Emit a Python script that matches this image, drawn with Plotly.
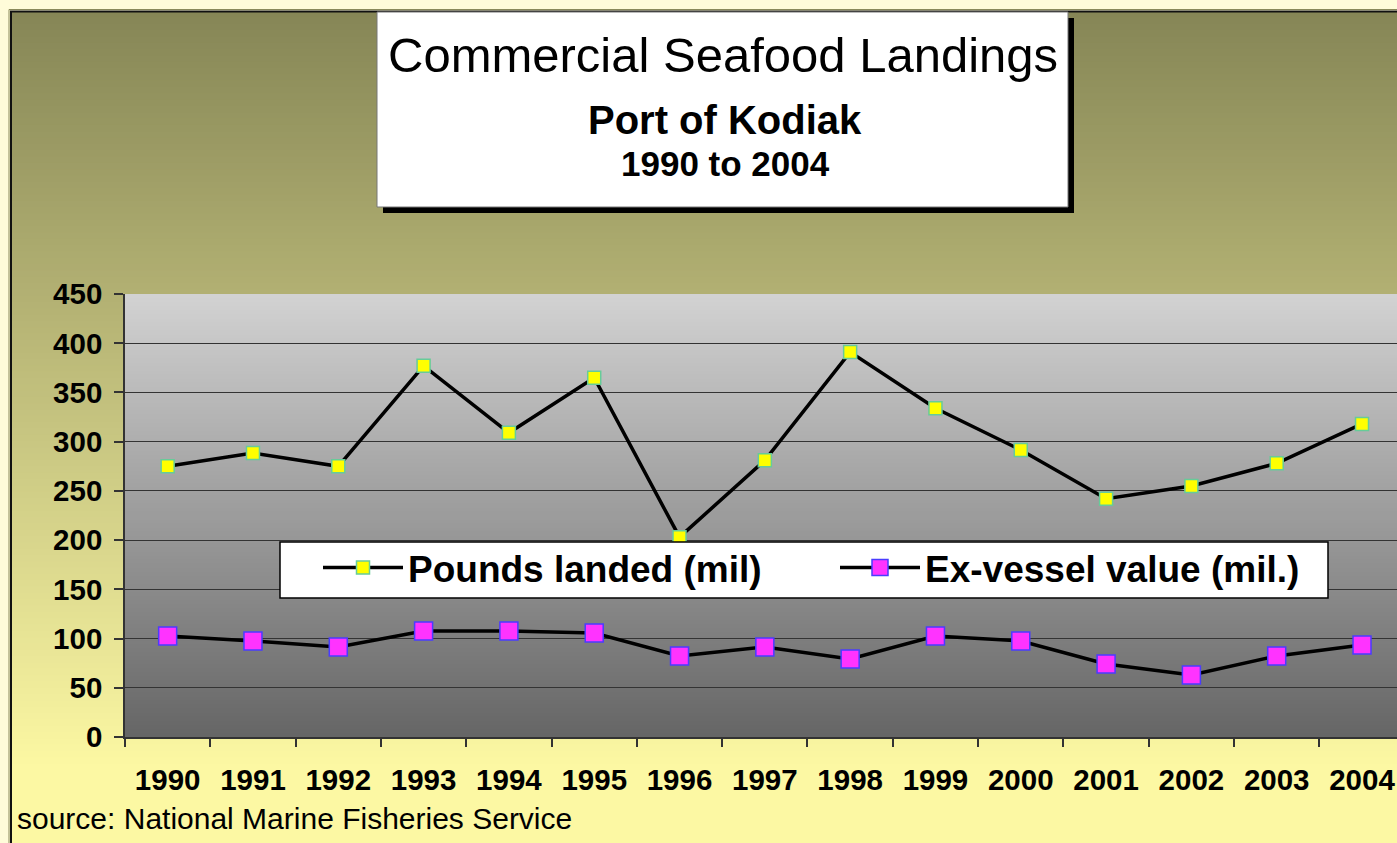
import plotly.graph_objects as go

# ---------------- data ----------------
years = ['1990', '1991', '1992', '1993', '1994', '1995', '1996', '1997',
         '1998', '1999', '2000', '2001', '2002', '2003', '2004']
pounds_landed = [275, 288.5, 275, 377, 309, 365, 203, 281, 391, 334, 291.5, 242, 255, 278, 318]
exvessel_value = [102.6, 97.5, 91.4, 107.7, 107.7, 105.6, 82.3, 91.4, 79.2, 102.6, 97.5, 74.2, 63, 82.3, 93.5]
y_ticks = [0, 50, 100, 150, 200, 250, 300, 350, 400, 450]

title_main = "Commercial Seafood Landings"
title_sub = "Port of Kodiak"
title_years = "1990 to 2004"
source_text = "source: National Marine Fisheries Service"

# ---------------- layout geometry (pixels) ----------------
W, H = 1397, 843
L, R, T, B = 125, 1397, 294, 737


def px(x):
    return (x - L) / (R - L)


def py(y):
    return (B - y) / (B - T)


def mix(c1, c2, t):
    return '#%02x%02x%02x' % tuple(int(round(a + (b - a) * t)) for a, b in zip(c1, c2))


shapes = []
# outer chart-area gradient (olive -> pale yellow)
c_top, c_bot = (0x86, 0x86, 0x56), (0xfc, 0xf8, 0xa3)
N = 120
g0, g1 = 11, 770
for i in range(N):
    ya = g0 + (g1 - g0) * i / N
    yb = g0 + (g1 - g0) * (i + 1) / N + 1
    shapes.append(dict(type='rect', xref='paper', yref='paper', layer='below',
                       x0=px(10), x1=px(1410), y0=py(ya), y1=py(yb),
                       fillcolor=mix(c_top, c_bot, (i + 0.5) / N), line=dict(width=0)))
shapes.append(dict(type='rect', xref='paper', yref='paper', layer='below',
                   x0=px(10), x1=px(1410), y0=py(g1), y1=py(860),
                   fillcolor=mix(c_top, c_bot, 1), line=dict(width=0)))
# plot-area gradient (light grey -> dark grey)
p_top, p_bot = (0xd2, 0xd2, 0xd2), (0x66, 0x66, 0x66)
N2 = 110
for i in range(N2):
    ya = T + (B - T) * i / N2
    yb = T + (B - T) * (i + 1) / N2 + 0.8
    if yb > B:
        yb = B
    shapes.append(dict(type='rect', xref='paper', yref='paper', layer='below',
                       x0=0, x1=1.02, y0=py(ya), y1=py(yb),
                       fillcolor=mix(p_top, p_bot, (i + 0.5) / N2), line=dict(width=0)))
# chart-area border
shapes.append(dict(type='rect', xref='paper', yref='paper', layer='below',
                   x0=px(9), x1=px(1420), y0=py(9.5), y1=py(870),
                   fillcolor='rgba(0,0,0,0)', line=dict(color='#8a8a5a', width=1)))
shapes.append(dict(type='rect', xref='paper', yref='paper', layer='below',
                   x0=px(11), x1=px(1420), y0=py(11.5), y1=py(870),
                   fillcolor='rgba(0,0,0,0)', line=dict(color='#111111', width=2)))
# title box shadow + box
shapes.append(dict(type='rect', xref='paper', yref='paper',
                   x0=px(383), x1=px(1074), y0=py(18), y1=py(213),
                   fillcolor='black', line=dict(width=0)))
shapes.append(dict(type='rect', xref='paper', yref='paper',
                   x0=px(377), x1=px(1068), y0=py(12), y1=py(207),
                   fillcolor='white', line=dict(color='#777777', width=1)))
# legend box (legend itself drawn transparent on top of it)
shapes.append(dict(type='rect', xref='paper', yref='paper', layer='above',
                   x0=px(280), x1=px(1328), y0=py(542), y1=py(598),
                   fillcolor='white', line=dict(color='black', width=1.5)))

annotations = [
    dict(text=title_main, xref='paper', yref='paper', x=px(723), y=py(55),
         xanchor='center', yanchor='middle', showarrow=False,
         font=dict(family='Liberation Sans, Arial', size=49, color='black')),
    dict(text=title_sub, xref='paper', yref='paper', x=px(725), y=py(120),
         xanchor='center', yanchor='middle', showarrow=False,
         font=dict(family='Liberation Sans, Arial', size=40, color='black', weight='bold')),
    dict(text=title_years, xref='paper', yref='paper', x=px(725), y=py(164),
         xanchor='center', yanchor='middle', showarrow=False,
         font=dict(family='Liberation Sans, Arial', size=35, color='black', weight='bold')),
    dict(text=source_text, xref='paper', yref='paper', x=px(15), y=py(818),
         xanchor='left', yanchor='middle', showarrow=False,
         font=dict(family='Liberation Sans, Arial', size=30, color='black')),
]

fig = go.Figure()
fig.add_trace(go.Scatter(
    x=years, y=pounds_landed, name='Pounds landed (mil)', mode='lines+markers',
    line=dict(color='black', width=3.5),
    marker=dict(symbol='square', size=13, color='#ffff00', line=dict(color='#66cc99', width=1.5)),
))
fig.add_trace(go.Scatter(
    x=years, y=exvessel_value, name='Ex-vessel value (mil.)', mode='lines+markers',
    line=dict(color='black', width=3.5),
    marker=dict(symbol='square', size=18, color='#ff33ff', line=dict(color='#4a3cff', width=1.5)),
))

tick_font = dict(family='Liberation Sans, Arial', size=29.5, color='black', weight='bold')
fig.update_layout(
    width=W, height=H,
    margin=dict(l=L, r=W - R, t=T, b=H - B, pad=0),
    paper_bgcolor='#fffcd9',
    plot_bgcolor='rgba(0,0,0,0)',
    shapes=shapes,
    annotations=annotations,
    showlegend=True,
    legend=dict(
        orientation='h', x=px(318), y=py(537), xanchor='left', yanchor='top',
        bgcolor='rgba(0,0,0,0)', borderwidth=0,
        font=dict(family='Liberation Sans, Arial', size=37, color='black', weight='bold'),
        itemwidth=80, entrywidth=422, entrywidthmode='pixels',
        tracegroupgap=0,
    ),
    xaxis=dict(
        type='category', range=[-0.5, 14.41], tickson='boundaries',
        ticks='outside', ticklen=8, tickcolor='#333333', tickwidth=1.5,
        showgrid=False, showline=True, linecolor='#333333', linewidth=1.5,
        tickfont=tick_font, ticklabelstandoff=16, fixedrange=True,
    ),
    yaxis=dict(
        range=[0, 450], tickvals=y_ticks, ticks='outside', ticklen=9,
        tickcolor='#333333', tickwidth=1.5,
        showgrid=True, gridcolor='#333333', gridwidth=1.2,
        showline=True, linecolor='#333333', linewidth=1.5, zeroline=False,
        tickfont=tick_font, ticklabelstandoff=6, fixedrange=True,
    ),
)

fig.write_html("out.html", config={'displayModeBar': False},
               post_script="document.body.style.margin='0';document.body.style.overflow='hidden';")
